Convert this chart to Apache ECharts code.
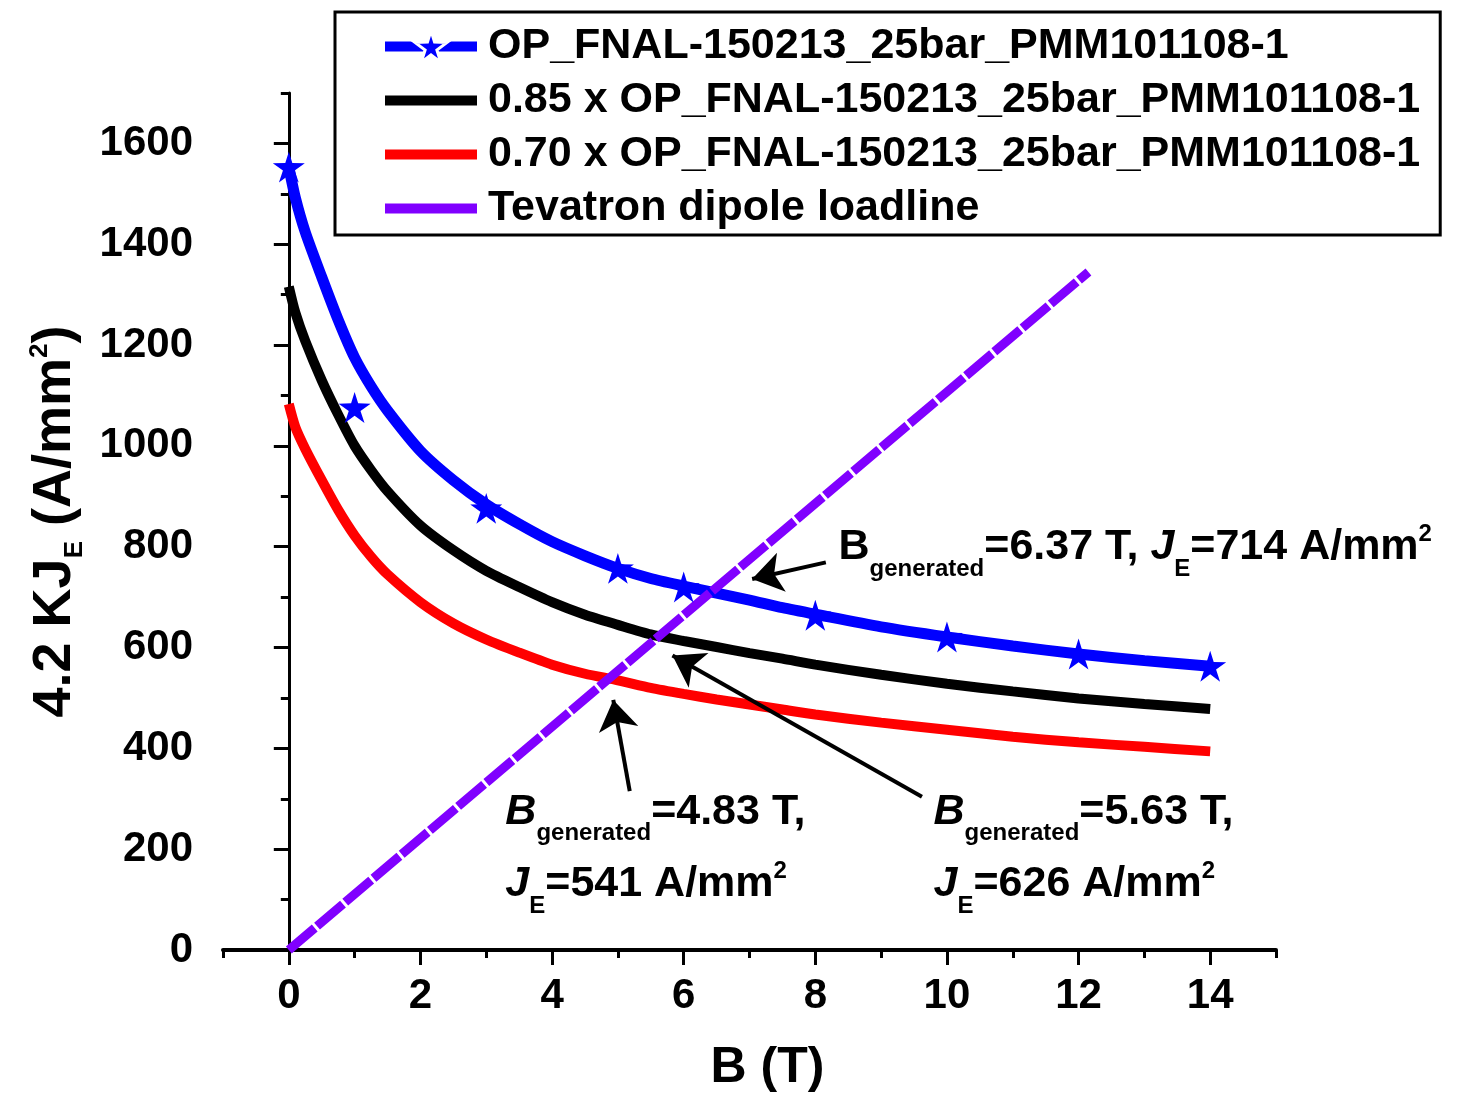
<!DOCTYPE html>
<html>
<head>
<meta charset="utf-8">
<script src="https://cdn.jsdelivr.net/npm/echarts@6/dist/echarts.min.js"></script>
<style>
html,body{margin:0;padding:0;background:#fff;}
#chart{width:1474px;height:1097px;}
</style>
</head>
<body>
<div id="chart"></div>
<script>
// ---------------- data ----------------
const seriesNames = [
  'OP_FNAL-150213_25bar_PMM101108-1',
  '0.85 x OP_FNAL-150213_25bar_PMM101108-1',
  '0.70 x OP_FNAL-150213_25bar_PMM101108-1',
  'Tevatron dipole loadline'
];
// magnetic field B (T) sampled along the curves
const fieldB = [0,0.1,0.25,0.5,0.75,1,1.25,1.5,2,2.5,3,3.5,4,4.5,5,5.5,6,6.5,7,7.5,8,9,10,11,12,13,14];
// 4.2 K J_E (A/mm^2)
const opJ    = [1553,1492,1424,1335,1250,1175,1118,1070,990,932,884,845,810,782,757,737,722,708,694,679,666,641,621,603,587,574,563];
const op085J = [1316,1264,1208,1130,1062,1000,952,910,842,793,752,720,690,665,645,626,613,601,589,578,566,546,528,513,499,488,478];
const op070J = [1083,1037,994,932,873,822,780,745,690,648,616,590,566,548,535,520,508,497,487,477,467,451,437,423,412,403,394];
// star markers of the measured curve
const starB = [0,1,3,5,6,8,10,12,14];
const starJ = [1553,1076,876,757,720,664,621,587,563];
// loadline
const loadB = [0,12.15];
const loadJ = [0,1345];
// axis ticks
const xTickLabels = [0,2,4,6,8,10,12,14];
const xMinorTicks = [-1,1,3,5,7,9,11,13,15];
const yTickLabels = [0,200,400,600,800,1000,1200,1400,1600];
const yMinorTicks = [100,300,500,700,900,1100,1300,1500,1700];
// annotation values
const crossings = [
  {b: '6.37', j: '714'},
  {b: '4.83', j: '541'},
  {b: '5.63', j: '626'}
];

// ---------------- chart ----------------
const F = '"Liberation Sans", Arial, Helvetica, sans-serif';
const zip = (a, b) => a.map((v, i) => [v, b[i]]);
const STAR = 'path://M50,0 L60.5,33.5 L97.6,34.5 L67.5,56 L79.4,92 L50,70 L20.6,92 L32.5,56 L2.4,34.5 L39.5,33.5 Z';

const richBase = {
  m:   {fontFamily: F, fontSize: 43, fontWeight: 'bold', color: '#000'},
  it:  {fontFamily: F, fontSize: 43, fontWeight: 'bold', fontStyle: 'italic', color: '#000'},
  sub: {fontFamily: F, fontSize: 24, fontWeight: 'bold', color: '#000', padding: [44, 0, 0, 0]},
  sup: {fontFamily: F, fontSize: 24, fontWeight: 'bold', color: '#000', padding: [0, 0, 26, 0]}
};

const annotLabel = (txt) => ({
  show: true, position: 'right', distance: 0,
  formatter: txt, rich: richBase
});

const option = {
  animation: false,
  backgroundColor: '#fff',
  textStyle: {fontFamily: F},
  grid: {left: 223, right: 198, top: 93, bottom: 147, containLabel: false, outerBoundsMode: 'none'},
  legend: {
    orient: 'vertical',
    left: 335, top: 12,
    padding: [13, 20, 5, 45],
    borderColor: '#000', borderWidth: 3, backgroundColor: '#fff',
    itemWidth: 92, itemHeight: 40, itemGap: 11,
    selectedMode: false,
    lineStyle: {width: 10},
    textStyle: {fontFamily: F, fontSize: 43, fontWeight: 'bold', color: '#000', padding: [0, 0, 0, 6]},
    data: [
      {name: seriesNames[0], itemStyle: {borderColor: '#fff', borderWidth: 3, opacity: 1}},
      {name: seriesNames[1], itemStyle: {opacity: 0}},
      {name: seriesNames[2], itemStyle: {opacity: 0}},
      {name: seriesNames[3], itemStyle: {opacity: 0}, lineStyle: {type: 'solid', width: 10}}
    ]
  },
  xAxis: [
    {
      type: 'value', min: -1, max: 15, position: 'bottom',
      name: 'B (T)', nameLocation: 'middle', nameGap: 93,
      nameTextStyle: {fontFamily: F, fontSize: 50, fontWeight: 'bold', color: '#000', padding: [0, 0, 0, 36]},
      axisLine: {show: true, lineStyle: {color: '#000', width: 4}},
      axisTick: {show: true, inside: false, length: 15, lineStyle: {color: '#000', width: 3}, customValues: xTickLabels},
      axisLabel: {show: true, margin: 25, fontFamily: F, fontSize: 42, fontWeight: 'bold', color: '#000',
                  customValues: xTickLabels, formatter: (v) => String(v)},
      splitLine: {show: false}
    },
    {
      type: 'value', min: -1, max: 15, position: 'bottom',
      axisLine: {show: false},
      axisTick: {show: true, inside: false, length: 8, lineStyle: {color: '#000', width: 3}, customValues: xMinorTicks},
      axisLabel: {show: false},
      splitLine: {show: false}
    }
  ],
  yAxis: [
    {
      type: 'value', min: 0, max: 1700, position: 'left',
      name: '{m|4.2 KJ}{sub|E}{m| (A/mm}{sup|2}{m|)}',
      nameLocation: 'middle', nameRotate: 90, nameGap: 135,
      nameTextStyle: {
        rich: {
          m:   {fontFamily: F, fontSize: 54, fontWeight: 'bold', color: '#000'},
          sub: {fontFamily: F, fontSize: 26, fontWeight: 'bold', color: '#000', padding: [40, 0, 0, 0]},
          sup: {fontFamily: F, fontSize: 26, fontWeight: 'bold', color: '#000', padding: [0, 0, 30, 0]}
        }
      },
      axisLine: {show: true, lineStyle: {color: '#000', width: 3}},
      axisTick: {show: true, inside: false, length: 15, lineStyle: {color: '#000', width: 3}, customValues: yTickLabels},
      axisLabel: {show: true, margin: 30, fontFamily: F, fontSize: 42, fontWeight: 'bold', color: '#000',
                  customValues: yTickLabels, formatter: (v) => String(v)},
      splitLine: {show: false}
    },
    {
      type: 'value', min: 0, max: 1700, position: 'left',
      axisLine: {show: false},
      axisTick: {show: true, inside: false, length: 8, lineStyle: {color: '#000', width: 3}, customValues: yMinorTicks},
      axisLabel: {show: false},
      splitLine: {show: false}
    }
  ],
  series: [
    {
      name: seriesNames[0], type: 'line', data: zip(fieldB, opJ),
      symbol: STAR, symbolKeepAspect: true, showSymbol: false, smooth: 0.25,
      lineStyle: {color: '#0000ff', width: 11}, itemStyle: {color: '#0000ff', opacity: 1}, z: 2
    },
    {
      name: seriesNames[1], type: 'line', data: zip(fieldB, op085J),
      symbol: 'none', smooth: 0.25,
      lineStyle: {color: '#000000', width: 10}, itemStyle: {color: '#000000'}, z: 2
    },
    {
      name: seriesNames[2], type: 'line', data: zip(fieldB, op070J),
      symbol: 'none', smooth: 0.25,
      lineStyle: {color: '#ff0000', width: 10}, itemStyle: {color: '#ff0000'}, z: 2
    },
    {
      name: seriesNames[3], type: 'line', data: zip(loadB, loadJ),
      symbol: 'none',
      lineStyle: {color: '#8000ff', width: 9, type: [34, 3]}, itemStyle: {color: '#8000ff'}, z: 3
    },
    {
      name: seriesNames[0], type: 'scatter', data: zip(starB, starJ),
      symbol: STAR, symbolKeepAspect: true, symbolSize: 32,
      itemStyle: {color: '#0000ff', opacity: 1}, z: 5
    },
    {
      name: 'annotations', type: 'scatter', data: [], z: 6, silent: true,
      markLine: {
        silent: true, animation: false,
        symbol: ['none', 'arrow'], symbolSize: 30,
        label: {show: false},
        lineStyle: {color: '#000', width: 4, type: 'solid', opacity: 1},
        itemStyle: {color: '#000'},
        data: [
          [{coord: [8.16, 769]}, {coord: [7.04, 736]}],
          [{coord: [9.62, 304]}, {coord: [5.83, 584]}],
          [{coord: [5.18, 315]}, {coord: [4.93, 496]}]
        ]
      },
      markPoint: {
        silent: true, animation: false,
        symbol: 'circle', symbolSize: 1,
        itemStyle: {color: 'rgba(0,0,0,0)'},
        data: [
          {coord: [8.345, 799], label: annotLabel('{m|B}{sub|generated}{m|=' + crossings[0].b + ' T, }{it|J}{sub|E}{m|=' + crossings[0].j + ' A/mm}{sup|2}')},
          {coord: [3.283, 274], label: annotLabel('{it|B}{sub|generated}{m|=' + crossings[1].b + ' T,}')},
          {coord: [3.283, 131], label: annotLabel('{it|J}{sub|E}{m|=' + crossings[1].j + ' A/mm}{sup|2}')},
          {coord: [9.789, 274], label: annotLabel('{it|B}{sub|generated}{m|=' + crossings[2].b + ' T,}')},
          {coord: [9.789, 131], label: annotLabel('{it|J}{sub|E}{m|=' + crossings[2].j + ' A/mm}{sup|2}')}
        ]
      }
    }
  ]
};

const chart = echarts.init(document.getElementById('chart'), null, {renderer: 'canvas'});
chart.setOption(option);
</script>
</body>
</html>
